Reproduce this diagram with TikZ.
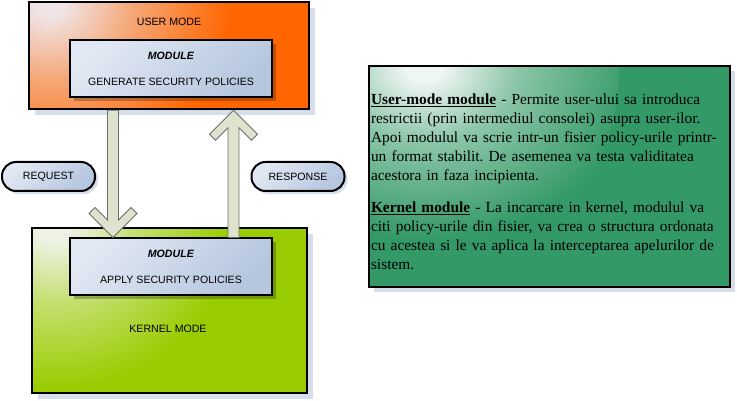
\documentclass[tikz,border=0pt]{standalone}
\usepackage{fontspec}
\setmainfont{Liberation Serif}
\setsansfont{Liberation Sans}
\usetikzlibrary{calc,shadows}
\frenchspacing
\definecolor{usrorange}{HTML}{FF6600}
\definecolor{usrpeach}{HTML}{F5A878}
\definecolor{usrlight}{HTML}{F0E4E6}
\definecolor{krngreen}{HTML}{99CC00}
\definecolor{krnmid}{HTML}{C4E070}
\definecolor{krnlight}{HTML}{EEF2E6}
\definecolor{modlight}{HTML}{E2E8F3}
\definecolor{moddark}{HTML}{B5C6DF}
\definecolor{txtgreen}{HTML}{339966}
\definecolor{txtmid}{HTML}{8CC6A8}
\definecolor{txtlight}{HTML}{F0F6F3}
\definecolor{shblue}{HTML}{D6DEEC}
\definecolor{arrfill}{HTML}{DFE2CD}
\definecolor{arrdraw}{HTML}{6E6E6E}
% glow from the top left corner (circle edge = 17.7bp)
\pgfdeclareradialshading{userglow}{\pgfpointorigin}{color(0bp)=(usrlight); color(1.5bp)=(usrlight); color(8bp)=(usrpeach); color(17.5bp)=(usrorange); color(50bp)=(usrorange)}
\pgfdeclareradialshading{kernelglow}{\pgfpointorigin}{color(0bp)=(krnlight); color(1.5bp)=(krnlight); color(8bp)=(krnmid); color(17.5bp)=(krngreen); color(50bp)=(krngreen)}
\pgfdeclareradialshading{notesglow}{\pgfpointorigin}{color(0bp)=(txtlight); color(1.5bp)=(txtlight); color(7.5bp)=(txtmid); color(17.5bp)=(txtgreen); color(50bp)=(txtgreen)}
\tikzstyle{ub} = [rectangle,
                      line width=2.5pt,
                      draw=black,
                      fill=usrorange,
                      path picture={\shade[shading=userglow] (path picture bounding box.north west) circle (240pt);},
                      minimum width=280pt,
                      minimum height=107pt,
                      drop shadow={shadow xshift=6pt, shadow yshift=-6pt, fill=shblue, opacity=1}]
\tikzstyle{kb} = [rectangle,
                      line width=2.5pt,
                      draw=black,
                      fill=krngreen,
                      path picture={\shade[shading=kernelglow] (path picture bounding box.north west) circle (230pt);},
                      minimum width=275pt,
                      minimum height=165pt,
                      drop shadow={shadow xshift=6pt, shadow yshift=-6pt, fill=shblue, opacity=1}]
\tikzstyle{mb} = [rectangle,
                      line width=2pt,
                      draw=black,
                      top color=modlight,
                      bottom color=moddark,
                      shading angle=45,
                      font=\sffamily\fontsize{10.6}{26}\selectfont,
                      align=center,
                      minimum width=202pt,
                      minimum height=57pt,
                      drop shadow={shadow xshift=4pt, shadow yshift=-4pt, fill=black, opacity=0.25}]
\tikzstyle{cb} = [rectangle,
                      line width=2pt,
                      rounded corners=14pt,
                      draw=black,
                      top color=modlight,
                      bottom color=moddark,
                      shading angle=45,
                      font=\sffamily\fontsize{10.6}{12}\selectfont,
                      minimum width=93pt,
                      minimum height=29pt,
                      drop shadow={shadow xshift=3pt, shadow yshift=-3pt, fill=shblue, opacity=1}]
\tikzstyle{tb} = [rectangle,
                      line width=2.5pt,
                      draw=black,
                      fill=txtgreen,
                      path picture={\shade[shading=notesglow] (path picture bounding box.north west) circle (250pt);},
                      font=\fontsize{15.4}{19}\selectfont,
                      text width=357pt,
                      inner xsep=2pt,
                      align=left,
                      minimum width=361pt,
                      minimum height=221pt,
                      drop shadow={shadow xshift=5pt, shadow yshift=-5pt, fill=shblue, opacity=1}]
\tikzstyle{ab} = [line width=0.8pt,
                      draw=arrdraw,
                      fill=arrfill,
                      line join=miter]
\tikzstyle{lb} = [font=\sffamily\fontsize{10.6}{12}\selectfont]
% block arrow with chevron head: start, tip, direction (1 down, -1 up)
\newcommand{\blockarrow}[3]{
  \path[ab] ($(#1)+(-5.5,0)$) -- ($(#2)+(-5.5,#3*17.5)$) -- ($(#2)+(-18,#3*30)$)
     -- ($(#2)+(-24,#3*24)$) -- (#2) -- ($(#2)+(24,#3*24)$) -- ($(#2)+(18,#3*30)$)
     -- ($(#2)+(5.5,#3*17.5)$) -- ($(#1)+(5.5,0)$) -- cycle;
}
\begin{document}
\begin{tikzpicture}[x=1pt,y=1pt]
     \useasboundingbox (0,0) rectangle (737,401);
     \node [ub] (usermode) at (169,345.5) {};
     \node [lb] (usertitle) at (169,379) {USER MODE};
     \node [kb] (kernelmode) at (169.5,90.5) {};
     \node [lb] (kerneltitle) at (168,72) {KERNEL MODE};
     \node [mb] (applymodule) at (171,134) {\textbf{\textit{MODULE}}\\APPLY SECURITY POLICIES};
     \blockarrow{$(usermode.south)+(-56,0)$}{$(applymodule.north)+(-58,0)$}{1}
     \blockarrow{$(applymodule.north)+(62.5,0)$}{$(usermode.south)+(64.5,0)$}{-1}
     \node [mb] (genmodule) at (171,332.5) {\textbf{\textit{MODULE}}\\GENERATE SECURITY POLICIES};
     \node [cb] (request) at (48.5,224.5) {REQUEST};
     \node [cb] (response) at (298,224.5) {RESPONSE};
     \node [tb] (notes) at (549.5,224.5) {%
       \rule{0pt}{21.5pt}\underline{\textbf{User-mode module}} - Permite user-ului sa introduca\\
       restrictii (prin intermediul consolei) asupra user-ilor.\\
       Apoi modulul va scrie intr-un fisier policy-urile printr-\\
       un format stabilit. De asemenea va testa validitatea\\
       acestora in faza incipienta.\\[13pt]
       \underline{\textbf{Kernel module}} - La incarcare in kernel, modulul va\\
       citi policy-urile din fisier, va crea o structura ordonata\\
       cu acestea si le va aplica la interceptarea apelurilor de\\
       sistem.};
\end{tikzpicture}
\end{document}
